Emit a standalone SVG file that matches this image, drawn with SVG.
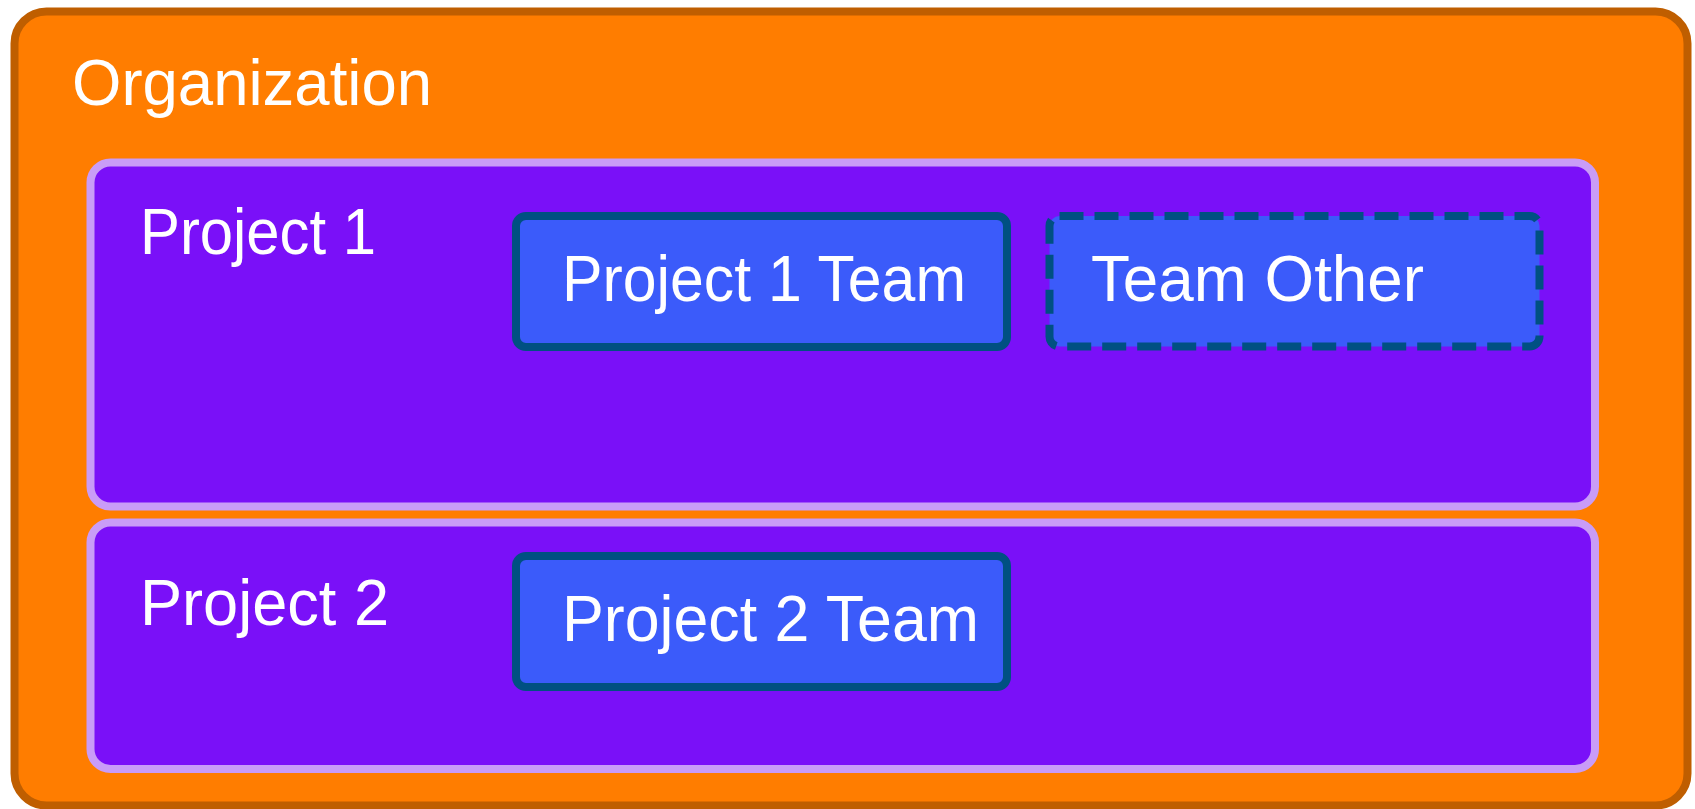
<svg xmlns="http://www.w3.org/2000/svg" width="1695" height="809" viewBox="0 0 1695 809">
  <style>
    .org { fill: #FF7D00; stroke: #BF5E00; stroke-width: 8; }
    .proj { fill: #7A10F8; stroke: #C99CF7; stroke-width: 8; }
    .team { fill: #3B5BFA; stroke: #005082; stroke-width: 8; }
    .dashed { stroke-dasharray: 24 11; }
    .lbl { fill: #FFFFFF; font-family: "Liberation Sans", Arial, sans-serif; font-size: 64px; }
  </style>
  <rect width="1695" height="809" fill="#FFFFFF"/>
  <g id="organization">
    <rect class="org" x="14.5" y="11.5" width="1673" height="794" rx="32"/>
    <text class="lbl" x="72" y="105" font-size="62" textLength="360" lengthAdjust="spacingAndGlyphs">Organization</text>
  </g>
  <g id="project1">
    <rect class="proj" x="90.5" y="162.5" width="1504.5" height="344" rx="20"/>
    <text class="lbl" x="140" y="254" textLength="236" lengthAdjust="spacingAndGlyphs">Project 1</text>
  </g>
  <g id="project2">
    <rect class="proj" x="90.5" y="522.5" width="1504.5" height="246.5" rx="20"/>
    <text class="lbl" x="140" y="625" textLength="249" lengthAdjust="spacingAndGlyphs">Project 2</text>
  </g>
  <g id="project1-team">
    <rect class="team" x="516" y="216" width="491" height="131" rx="10"/>
    <text class="lbl" x="562" y="301" textLength="404" lengthAdjust="spacingAndGlyphs">Project 1 Team</text>
  </g>
  <g id="team-other">
    <rect class="team dashed" x="1049.5" y="216" width="490" height="130.5" rx="10"/>
    <text class="lbl" x="1091" y="301" textLength="333" lengthAdjust="spacingAndGlyphs">Team Other</text>
  </g>
  <g id="project2-team">
    <rect class="team" x="516" y="556" width="491" height="131" rx="10"/>
    <text class="lbl" x="562" y="641" textLength="417" lengthAdjust="spacingAndGlyphs">Project 2 Team</text>
  </g>
  <g id="connectors"></g>
</svg>
